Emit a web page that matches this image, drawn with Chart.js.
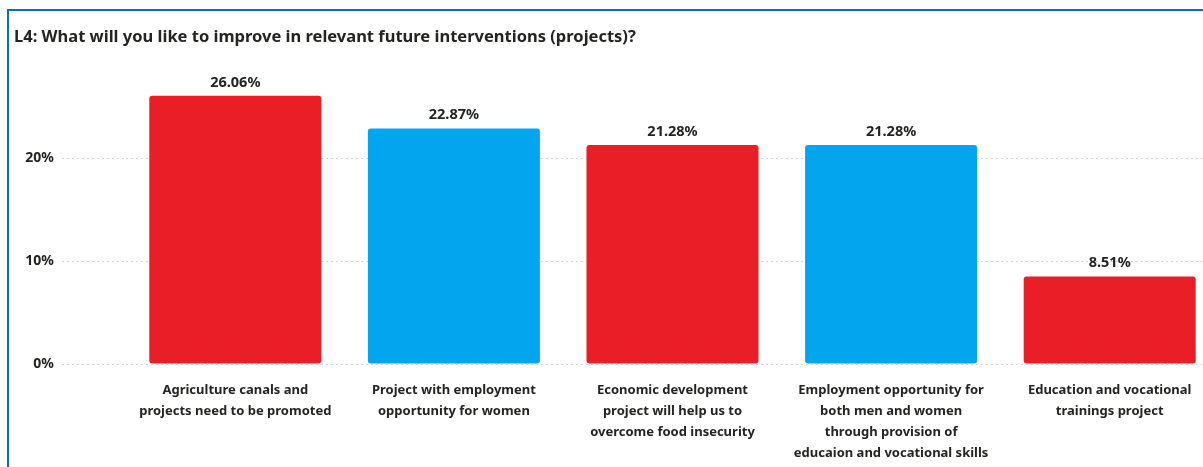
<!DOCTYPE html>
<html>
<head>
<meta charset="utf-8">
<script src="https://cdn.jsdelivr.net/npm/chart.js@4/dist/chart.umd.min.js"></script>
<style>
  html, body { margin: 0; padding: 0; background: #fff; overflow: hidden; width: 1203px; height: 467px; }
  #frame { position: absolute; left: 7px; top: 9px; width: 1300px; height: 600px; border-left: 2px solid #0a6fc4; border-top: 2px solid #0a6fc4; }
  #wrap { position: absolute; left: 0; top: 0; width: 1225px; height: 467px; }
</style>
</head>
<body>
<div id="frame"></div>
<div id="wrap"><canvas id="grafico"></canvas></div>
<script>
var categorias = [
    ["Agriculture canals and", "projects need to be promoted"],
    ["Project with employment", "opportunity for women"],
    ["Economic development", "project will help us to", "overcome food insecurity"],
    ["Employment opportunity for", "both men and women", "through provision of", "educaion and vocational skills"],
    ["Education and vocational", "trainings project"]
]
var percentuais = [26.06, 22.87, 21.28, 21.28, 8.51]
var cores = ["#e91e26", "#03a6ee", "#e91e26", "#03a6ee", "#e91e26"]
var ticksY = [0, 10, 20]

var fonte = "'Noto Sans', 'Open Sans', sans-serif"
var corTexto = "#252423"

// rotulo de valor em cima de cada barra
var rotulos = {
    id: "rotulos",
    afterDatasetsDraw(chart) {
        var ctx = chart.ctx
        ctx.save()
        ctx.font = "bold 14.5px " + fonte
        ctx.fillStyle = corTexto
        ctx.textAlign = "center"
        ctx.textBaseline = "bottom"
        chart.getDatasetMeta(0).data.forEach(function (barra, i) {
            ctx.fillText(percentuais[i].toFixed(2) + "%", barra.x, barra.y - 6)
        })
        ctx.restore()
    }
}

new Chart(document.getElementById("grafico"), {
    type: "bar",
    data: {
        labels: categorias,
        datasets: [{
            data: percentuais,
            backgroundColor: cores,
            borderRadius: 3,
            borderSkipped: false,
            categoryPercentage: 1,
            barPercentage: 0.787
        }]
    },
    options: {
        responsive: true,
        maintainAspectRatio: false,
        animation: false,
        layout: { padding: { left: 14, right: 6, top: 0, bottom: 0 } },
        plugins: {
            legend: { display: false },
            tooltip: { enabled: false },
            title: {
                display: true,
                text: "L4: What will you like to improve in relevant future interventions (projects)?",
                align: "start",
                color: corTexto,
                font: { family: fonte, size: 16.5, weight: "bold" },
                padding: { top: 27, bottom: 29 }
            }
        },
        scales: {
            x: {
                grid: { display: false },
                border: { display: false },
                ticks: {
                    color: corTexto,
                    font: { family: fonte, size: 13, weight: "bold", lineHeight: 1.6 },
                    padding: 8,
                    maxRotation: 0,
                    autoSkip: false
                },
                afterFit: function (eixo) { eixo.height = 103 }
            },
            y: {
                min: 0,
                max: 28,
                border: { display: false, dash: [2, 3] },
                grid: {
                    color: "#d4d4d4",
                    drawTicks: true,
                    tickLength: 64,
                    tickColor: "#d4d4d4",
                    tickBorderDash: [2, 3]
                },
                ticks: {
                    stepSize: 10,
                    padding: 8,
                    color: corTexto,
                    font: { family: fonte, size: 14, weight: "bold" },
                    callback: function (v) { return v + "%" }
                },
                afterBuildTicks: function (eixo) {
                    eixo.ticks = eixo.ticks.filter(function (t) { return ticksY.indexOf(t.value) >= 0 })
                },
                afterFit: function (eixo) { eixo.width = 112 }
            }
        }
    },
    plugins: [rotulos]
})
</script>
</body>
</html>
